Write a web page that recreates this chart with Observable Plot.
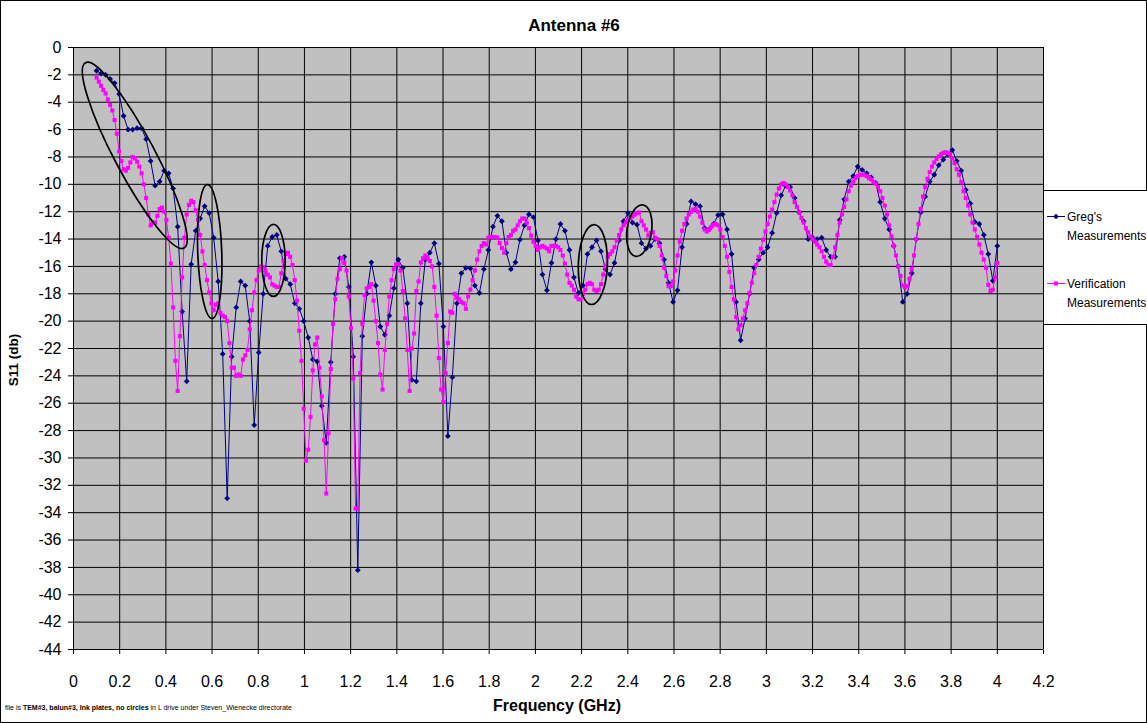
<!DOCTYPE html>
<html><head><meta charset="utf-8">
<script src="https://cdn.jsdelivr.net/npm/d3@7"></script>
<script src="https://cdn.jsdelivr.net/npm/@observablehq/plot@0.6"></script>
<style>html,body{margin:0;padding:0;background:#fff}</style>
</head><body><div id="chart"></div>
<script>
// ---- data ----
const chartTitle = "Antenna #6";
const xTitle = "Frequency (GHz)";
const yTitle = "S11 (db)";
const seriesNames = ["Greg's", "Measurements", "Verification", "Measurements"];
const gregStart = 0.1, gregStop = 4.0;
const gregS11 = [
-1.7,-1.9,-2.0,-2.3,-2.6,-3.4,-5.0,-6.0,-6.0,-5.9,
-5.9,-6.7,-8.3,-10.1,-9.8,-9.0,-9.2,-10.3,-13.1,-19.3,
-24.4,-15.85,-13.4,-12.5,-11.6,-12.1,-13.9,-17.1,-22.4,-32.95,
-22.6,-19.0,-17.1,-17.4,-20.0,-27.6,-22.3,-18.0,-14.5,-13.85,
-13.7,-14.9,-16.9,-17.3,-18.7,-19.1,-20.0,-21.2,-22.8,-22.95,
-26.2,-28.9,-23.0,-18.0,-15.4,-15.3,-17.5,-22.6,-38.2,-21.1,
-18.0,-15.7,-17.4,-20.4,-21.0,-19.6,-17.6,-15.5,-16.1,-18.7,
-24.3,-24.4,-18.7,-15.5,-15.0,-14.3,-15.8,-20.4,-28.4,-24.1,
-18.7,-16.5,-16.1,-16.15,-17.4,-17.95,-16.2,-14.8,-13.1,-12.3,
-12.7,-15.0,-16.2,-15.7,-14.05,-13.0,-12.2,-12.4,-14.1,-16.6,
-17.75,-15.75,-14.0,-12.9,-13.4,-14.8,-16.8,-17.95,-17.4,-15.1,
-14.6,-14.1,-14.9,-16.2,-16.6,-15.75,-14.1,-12.7,-12.1,-12.8,
-12.95,-14.3,-14.7,-14.5,-14.0,-14.3,-15.5,-17.2,-18.6,-17.75,
-14.6,-12.9,-11.25,-11.45,-11.6,-13.2,-13.3,-12.9,-12.25,-12.2,
-13.3,-15.1,-18.6,-21.4,-19.8,-18.0,-16.1,-15.5,-15.0,-14.6,
-13.55,-12.1,-10.8,-10.1,-10.2,-11.0,-12.05,-12.7,-14.0,-13.9,
-14.0,-13.9,-14.8,-15.3,-15.3,-12.6,-11.1,-9.8,-9.4,-8.7,
-8.95,-9.2,-9.5,-9.9,-11.3,-12.5,-13.3,-14.5,-16.0,-18.6,
-18.0,-16.5,-14.0,-12.05,-10.9,-9.8,-9.3,-8.6,-8.2,-7.8,
-7.5,-8.3,-9.0,-10.4,-11.4,-12.75,-12.9,-13.7,-15.1,-17.05,
-14.5];
const verStart = 0.1, verStop = 4.0;
const verS11 = [
-2.2,-2.5,-2.8,-3.1,-3.35,-3.8,-4.2,-4.6,-5.3,-6.3,
-7.6,-8.3,-8.9,-9.0,-8.8,-8.4,-8.0,-8.1,-8.35,-8.7,
-9.2,-10.0,-11.0,-12.2,-13.0,-12.8,-12.8,-12.3,-11.8,-11.7,
-12.0,-12.6,-13.9,-15.8,-19.0,-22.9,-25.1,-21.1,-16.8,-13.9,
-12.2,-11.5,-11.2,-11.3,-11.9,-12.6,-13.7,-14.9,-15.9,-17.0,
-17.9,-18.7,-19.2,-18.8,-18.7,-19.4,-19.6,-19.7,-20.0,-21.6,
-23.4,-23.4,-24.0,-23.9,-24.0,-22.8,-22.5,-22.1,-20.6,-19.2,
-17.9,-17.0,-16.3,-16.0,-16.05,-16.3,-16.6,-16.8,-17.3,-17.4,
-17.5,-17.5,-16.5,-15.6,-15.1,-15.0,-15.3,-15.9,-17.0,-18.5,
-20.7,-22.9,-26.4,-30.2,-29.4,-27.0,-23.6,-21.7,-21.2,-23.4,
-25.5,-28.7,-32.6,-28.2,-23.5,-20.2,-18.4,-16.9,-16.2,-15.4,
-15.75,-16.3,-18.2,-20.5,-24.2,-33.7,-33.7,-23.8,-20.2,-18.1,
-17.6,-17.5,-17.3,-18.5,-20.0,-21.6,-23.9,-25.0,-22.1,-20.2,
-18.2,-17.0,-16.2,-15.85,-15.85,-16.3,-17.8,-19.8,-22.1,-25.1,
-22.0,-20.9,-17.8,-17.1,-15.7,-15.4,-15.2,-15.4,-15.6,-16.0,
-17.5,-19.6,-22.7,-25.0,-25.9,-23.8,-21.6,-19.3,-19.4,-18.0,
-18.3,-18.4,-18.6,-18.7,-19.1,-18.2,-17.7,-17.0,-16.3,-15.5,
-14.9,-14.5,-14.3,-14.4,-13.9,-13.85,-13.85,-13.85,-13.9,-14.3,
-14.65,-15.0,-14.3,-13.85,-13.7,-13.4,-13.3,-13.0,-12.7,-12.5,
-12.5,-12.8,-13.2,-13.75,-14.2,-14.5,-14.8,-14.6,-14.5,-14.6,
-14.7,-14.9,-14.5,-14.5,-14.5,-14.6,-14.8,-15.2,-15.8,-16.6,
-17.2,-17.4,-17.7,-18.2,-18.4,-18.4,-18.0,-17.7,-17.3,-17.2,
-17.3,-17.7,-17.8,-17.7,-17.3,-16.6,-16.0,-15.3,-15.1,-14.9,
-14.6,-14.1,-13.7,-13.3,-13.0,-12.8,-12.6,-12.5,-12.35,-12.2,
-12.1,-12.05,-12.7,-13.0,-13.3,-13.75,-13.55,-13.5,-13.9,-14.0,
-14.5,-15.2,-16.1,-16.7,-17.45,-17.45,-17.1,-16.3,-15.2,-14.2,
-13.4,-12.9,-12.5,-12.2,-12.0,-11.85,-11.8,-12.0,-12.35,-12.8,
-13.3,-13.45,-13.3,-13.1,-12.95,-12.9,-13.0,-13.3,-13.85,-14.5,
-15.3,-16.4,-17.5,-18.4,-19.7,-20.6,-20.3,-19.8,-19.2,-18.7,
-17.95,-17.2,-16.5,-15.9,-15.3,-14.7,-14.05,-13.45,-12.9,-12.35,
-11.85,-11.3,-10.75,-10.3,-10.0,-9.9,-10.0,-10.2,-10.45,-10.8,
-11.3,-11.65,-12.05,-12.45,-12.8,-13.2,-13.5,-13.8,-14.0,-14.2,
-14.4,-14.6,-14.9,-15.3,-15.65,-15.9,-15.9,-15.3,-14.6,-13.7,
-12.8,-12.2,-11.65,-11.1,-10.5,-10.1,-9.8,-9.55,-9.4,-9.3,
-9.3,-9.3,-9.4,-9.55,-9.65,-9.85,-9.95,-10.2,-10.5,-11.0,
-11.55,-12.2,-13.0,-13.8,-14.5,-15.2,-16.0,-16.7,-17.4,-17.5,
-17.45,-16.9,-16.2,-15.2,-14.0,-12.9,-11.8,-10.9,-10.2,-9.6,
-9.1,-8.7,-8.4,-8.15,-7.95,-7.8,-7.7,-7.65,-7.7,-7.8,
-8.1,-8.45,-8.9,-9.3,-9.85,-10.5,-11.0,-11.55,-12.2,-12.8,
-13.3,-13.85,-14.4,-15.0,-15.5,-16.1,-17.35,-17.8,-17.7,-16.8,
-15.75];
const xTicks = [0,0.2,0.4,0.6,0.8,1,1.2,1.4,1.6,1.8,2,2.2,2.4,2.6,2.8,3,3.2,3.4,3.6,3.8,4,4.2];
const yTicks = [0,-2,-4,-6,-8,-10,-12,-14,-16,-18,-20,-22,-24,-26,-28,-30,-32,-34,-36,-38,-40,-42,-44];
// hand-drawn annotation ellipses: centre in data units
const ellipseF = [0.2675, 0.592, 0.868, 2.251, 2.452];
const ellipseV = [-7.92, -14.95, -15.6, -15.9, -13.42];
// ---- build tables ----
const greg = gregS11.map((v, i) => ({f: gregStart + i * (gregStop - gregStart) / (gregS11.length - 1), v}));
const ver = verS11.map((v, i) => ({f: verStart + i * (verStop - verStart) / (verS11.length - 1), v}));
const ellipseShape = [[105, 20, 62], [67, 12, 88], [36, 11.7, 90], [40, 14.5, 92], [26, 12.3, 98]];

const BLUE = "#000080", PINK = "#ff00ff";
function ellipseMark(index, scales) {
  const g = d3.create("svg:g").attr("fill", "none").attr("stroke", "#000").attr("stroke-width", 1.7);
  ellipseF.forEach((f, k) => {
    const [rx, ry, a] = ellipseShape[k];
    g.append("ellipse").attr("rx", rx).attr("ry", ry)
      .attr("transform", `translate(${scales.x(f)},${scales.y(ellipseV[k])}) rotate(${a})`);
  });
  return g.node();
}

const W = 1147, H = 723;
const svg = Plot.plot({
  width: W, height: H,
  marginLeft: 73, marginRight: 104, marginTop: 47, marginBottom: 74,
  style: {fontFamily: "'Liberation Sans', Arial, sans-serif", fontSize: "16px", background: "#fff", color: "#000"},
  x: {domain: [0, 4.2], ticks: xTicks, tickFormat: d => String(d), tickSize: 5, tickPadding: 21, label: null},
  y: {domain: [-44, 0], ticks: yTicks, tickFormat: d => String(d), tickSize: 5, tickPadding: 7, label: null},
  marks: [
    Plot.frame({fill: "#c0c0c0", stroke: "#808080"}),
    Plot.ruleY(yTicks, {stroke: "#000", strokeWidth: 1}),
    Plot.ruleX(xTicks, {stroke: "#000", strokeWidth: 1}),
    Plot.line(greg, {x: "f", y: "v", stroke: BLUE, strokeWidth: 1}),
    Plot.dot(greg, {x: "f", y: "v", symbol: "diamond2", r: 2.6, fill: BLUE}),
    Plot.line(ver, {x: "f", y: "v", stroke: PINK, strokeWidth: 1}),
    Plot.dot(ver, {x: "f", y: "v", symbol: "square", r: 2.3, fill: PINK}),
    ellipseMark
  ]
});
document.getElementById("chart").appendChild(svg);

const s = d3.select(svg);
const font = "'Liberation Sans', Arial, sans-serif";
s.append("rect").attr("x", 0.5).attr("y", 0.5).attr("width", W - 1).attr("height", H - 1)
  .attr("fill", "none").attr("stroke", "#000");
s.append("text").attr("x", 574).attr("y", 31).attr("text-anchor", "middle")
  .attr("font-family", font).attr("font-size", 17).attr("font-weight", "bold").attr("fill", "#000").text(chartTitle);
s.append("text").attr("x", 557).attr("y", 711).attr("text-anchor", "middle")
  .attr("font-family", font).attr("font-size", 16).attr("font-weight", "bold").attr("fill", "#000").text(xTitle);
s.append("text").attr("transform", "translate(18,360) rotate(-90)").attr("text-anchor", "middle")
  .attr("font-family", font).attr("font-size", 13.5).attr("font-weight", "bold").attr("fill", "#000").text(yTitle);
const foot = s.append("text").attr("x", 5).attr("y", 710).attr("text-anchor", "start")
  .attr("font-family", font).attr("font-size", 7).attr("fill", "#000");
foot.append("tspan").text("file is ");
foot.append("tspan").attr("font-weight", "bold").text("TEM#3, balun#3, Ink plates, no circles");
foot.append("tspan").text(" in L drive under Steven_Wienecke directorate");

// legend
const lg = s.append("g");
lg.append("rect").attr("x", 1043.5).attr("y", 190.5).attr("width", 130).attr("height", 134)
  .attr("fill", "#fff").attr("stroke", "#000");
const entries = [{c: BLUE, sym: d3.symbolDiamond2, size: 21, y: 216.5, t: [seriesNames[0], seriesNames[1]]},
                 {c: PINK, sym: d3.symbolSquare, size: 17, y: 283.5, t: [seriesNames[2], seriesNames[3]]}];
for (const e of entries) {
  lg.append("line").attr("x1", 1047).attr("x2", 1065).attr("y1", e.y).attr("y2", e.y).attr("stroke", e.c).attr("stroke-width", 1);
  lg.append("path").attr("d", d3.symbol(e.sym, e.size)()).attr("transform", `translate(1056,${e.y})`).attr("fill", e.c);
  lg.append("text").attr("x", 1067).attr("y", e.y + 4.5).attr("text-anchor", "start").attr("font-family", font).attr("font-size", 12).attr("fill", "#000").text(e.t[0]);
  lg.append("text").attr("x", 1067).attr("y", e.y + 23).attr("text-anchor", "start").attr("font-family", font).attr("font-size", 12).attr("fill", "#000").text(e.t[1]);
}
</script></body></html>
